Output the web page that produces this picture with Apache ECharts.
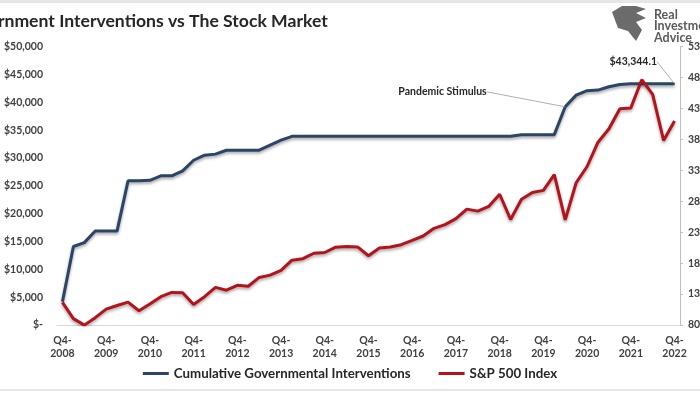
<!DOCTYPE html>
<html>
<head>
<meta charset="utf-8">
<script src="https://cdn.jsdelivr.net/npm/echarts@6/dist/echarts.min.js"></script>
<style>html,body{margin:0;padding:0;background:#fff}#c{width:700px;height:394px}</style>
</head>
<body>
<div id="c"></div>
<script>
var titleText = 'Government Interventions vs The Stock Market';
var categories = ['Q4-2008','Q1-2009','Q2-2009','Q3-2009','Q4-2009','Q1-2010','Q2-2010','Q3-2010','Q4-2010','Q1-2011','Q2-2011','Q3-2011','Q4-2011','Q1-2012','Q2-2012','Q3-2012','Q4-2012','Q1-2013','Q2-2013','Q3-2013','Q4-2013','Q1-2014','Q2-2014','Q3-2014','Q4-2014','Q1-2015','Q2-2015','Q3-2015','Q4-2015','Q1-2016','Q2-2016','Q3-2016','Q4-2016','Q1-2017','Q2-2017','Q3-2017','Q4-2017','Q1-2018','Q2-2018','Q3-2018','Q4-2018','Q1-2019','Q2-2019','Q3-2019','Q4-2019','Q1-2020','Q2-2020','Q3-2020','Q4-2020','Q1-2021','Q2-2021','Q3-2021','Q4-2021','Q1-2022','Q2-2022','Q3-2022','Q4-2022'];
var interventions = [4200,14100,14800,16900,16900,16900,25900,25900,26000,26800,26800,27700,29600,30500,30700,31400,31400,31400,31400,32300,33200,33900,33900,33900,33900,33900,33900,33900,33900,33900,33900,33900,33900,33900,33900,33900,33900,33900,33900,33900,33900,33900,34200,34200,34200,34200,39200,41300,42100,42200,42800,43200,43344.1,43344.1,43344.1,43344.1,43344.1];
var sp500 = [1166,903,798,919,1057,1115,1169,1031,1141,1258,1326,1321,1131,1258,1408,1362,1441,1426,1569,1606,1682,1848,1872,1960,1972,2059,2068,2063,1920,2044,2060,2099,2168,2239,2363,2423,2519,2674,2641,2718,2914,2507,2834,2942,2977,3231,2500,3100,3363,3756,3973,4298,4308,4766,4530,3785,4100];
var seriesNames = ['Cumulative Governmental Interventions','S&P 500 Index'];
var leftTicks = {min:0, max:50000, interval:5000};
var rightTicks = {min:800, max:5300, interval:500};
var annotationText = 'Pandemic Stimulus';
var annotationIndex = 46;

var FONT = 'Lato';
var blueColor = '#2c4566';
var redColor = '#b5121b';
var shadow = {shadowColor:'rgba(0,0,0,0.35)', shadowBlur:3, shadowOffsetY:2};

function fmtMoney(v){ return v === 0 ? '$-' : '$' + v.toLocaleString('en-US'); }
var lastIdx = interventions.length - 1;
var blueData = interventions.map(function(v,i){
  if (i === annotationIndex) {
    return {value:v, symbol:'circle', symbolSize:1,
      label:{show:true, position:'left', formatter:annotationText, fontFamily:FONT, fontWeight:'bold', fontSize:10.5, color:'#262626'},
      labelLine:{show:true, lineStyle:{color:'#b0b0b0', width:1}}};
  }
  if (i === lastIdx) {
    return {value:v, symbol:'circle', symbolSize:1,
      label:{show:true, position:'left', formatter:function(p){return '$' + p.value.toLocaleString('en-US',{minimumFractionDigits:1, maximumFractionDigits:1});}, fontFamily:FONT, fontWeight:'bold', fontSize:10.5, color:'#262626'},
      labelLine:{show:true, lineStyle:{color:'#b0b0b0', width:1}}};
  }
  return v;
});

var chart = echarts.init(document.getElementById('c'), null, {renderer:'canvas'});
chart.setOption({
  backgroundColor:'#ffffff',
  animation:false,
  title:{text:titleText, left:-48, top:7, textStyle:{fontFamily:FONT, fontWeight:'bold', fontSize:17.6, color:'#262626'}},
  legend:{
    data:seriesNames, left:'center', top:362, itemGap:28, itemWidth:26, itemHeight:3, icon:'rect',
    textStyle:{fontFamily:FONT, fontWeight:'bold', fontSize:13.3, color:'#262626'}
  },
  grid:{left:57, right:20, top:46.7, bottom:69, containLabel:false, outerBoundsMode:'none'},
  xAxis:{
    type:'category', data:categories, boundaryGap:true,
    axisLine:{show:true, lineStyle:{color:'#d9d9d9', width:1}},
    axisTick:{show:false},
    axisLabel:{interval:3, margin:9, lineHeight:13, fontFamily:FONT, fontWeight:'bold', fontSize:10.5, color:'#404040',
      formatter:function(v){ var p=v.split('-'); return p[0]+'-\n'+p[1]; }}
  },
  yAxis:[
    {type:'value', min:leftTicks.min, max:leftTicks.max, interval:leftTicks.interval,
      axisLine:{show:false}, axisTick:{show:false}, splitLine:{show:false},
      axisLabel:{margin:14, fontFamily:FONT, fontWeight:'bold', fontSize:10.5, color:'#404040', formatter:fmtMoney}},
    {type:'value', position:'right', min:rightTicks.min, max:rightTicks.max, interval:rightTicks.interval,
      axisLine:{show:true, lineStyle:{color:'#bfbfbf'}}, axisTick:{show:true, length:3, lineStyle:{color:'#bfbfbf'}}, splitLine:{show:false},
      axisLabel:{margin:8, fontFamily:FONT, fontWeight:'bold', fontSize:10.5, color:'#404040', formatter:function(v){return String(v);}}}
  ],
  series:[
    {name:seriesNames[0], type:'line', yAxisIndex:0, data:blueData, symbol:'none', showSymbol:true,
      itemStyle:{color:blueColor},
      lineStyle:Object.assign({color:blueColor, width:3}, shadow),
      labelLine:{show:true, lineStyle:{color:'#b0b0b0', width:1}},
      labelLayout:function(p){
        if (p.dataIndex === annotationIndex) return {dx:-73, dy:-15};
        if (p.dataIndex === lastIdx) return {dx:-12, dy:-22};
        return {};
      },
      z:3},
    {name:seriesNames[1], type:'line', yAxisIndex:1, data:sp500, symbol:'none', showSymbol:false,
      itemStyle:{color:redColor},
      lineStyle:Object.assign({color:redColor, width:3}, shadow),
      z:4}
  ],
  graphic:[
    {type:'rect', shape:{x:0,y:0,width:700,height:3}, style:{fill:'#e6e6e6'}, silent:true},
    {type:'rect', shape:{x:0,y:389,width:700,height:2}, style:{fill:'#e6e6e6'}, silent:true},
    {type:'polygon', shape:{points:[[612,12],[622,6],[636,6],[646,9],[636,13],[646,18],[636,22],[642,30],[636,41],[628,31],[618,28]]}, style:{fill:'#6b6b6b'}, silent:true},
    {type:'text', left:654, top:8, style:{text:'Real\nInvestment\nAdvice', font:'bold 12.5px Lato', fill:'#5a5a5a', lineHeight:11.5}, silent:true}
  ]
});
</script>
</body>
</html>
